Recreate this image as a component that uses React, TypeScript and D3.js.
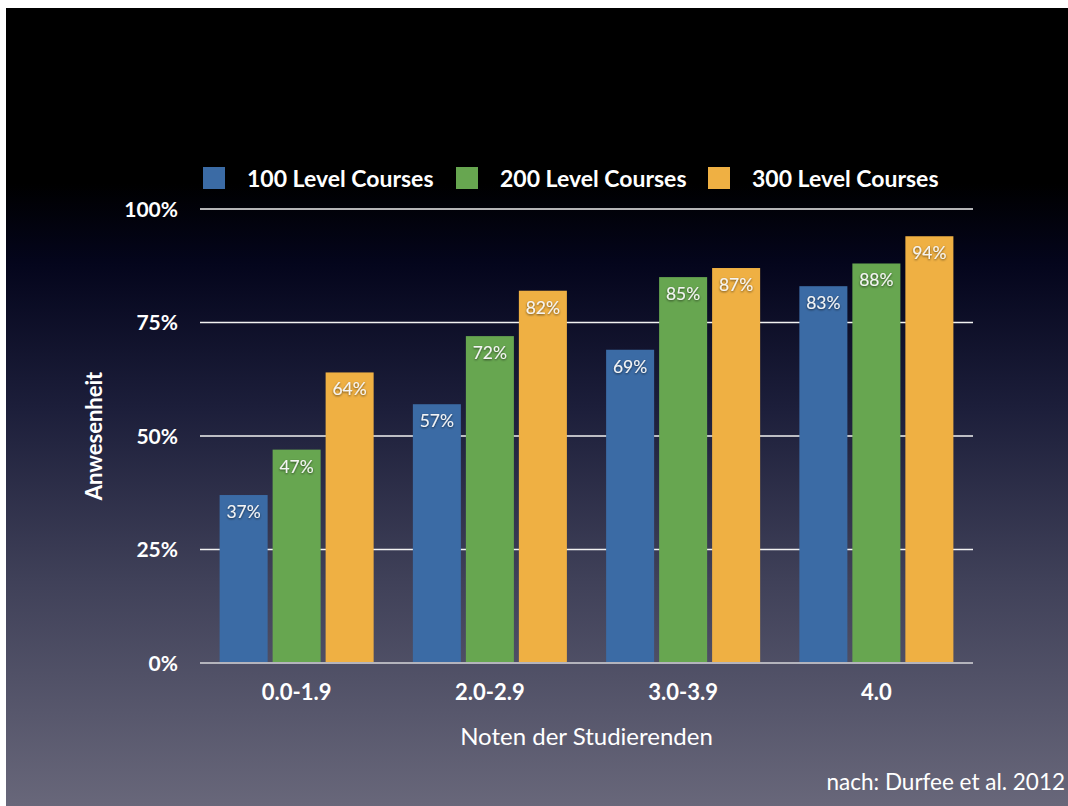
import React from "react";
import * as d3 from "d3";

const W = 1068;
const H = 806;

const categories = ["0.0-1.9", "2.0-2.9", "3.0-3.9", "4.0"];
const seriesNames = ["100 Level Courses", "200 Level Courses", "300 Level Courses"];
const level100 = [37, 57, 69, 83];
const level200 = [47, 72, 85, 88];
const level300 = [64, 82, 87, 94];
const yTicks = [0, 25, 50, 75, 100];
const seriesColors = ["#3b6ba5", "#67a650", "#efb043"];

const series = [level100, level200, level300];

const plot = { left: 200, right: 973, top: 209, bottom: 663 };
const FONT = "Lato, 'Open Sans', sans-serif";

export default function App() {
  const x0 = d3
    .scaleBand<string>()
    .domain(categories)
    .range([plot.left, plot.right]);
  const x1 = d3
    .scaleBand<string>()
    .domain(seriesNames)
    .range([0, x0.bandwidth()])
    .paddingInner(0.094)
    .paddingOuter(0.37);
  const y = d3.scaleLinear().domain([0, 100]).range([plot.bottom, plot.top]);

  const legendX = [203, 456, 708];

  return (
    <svg
      width={W}
      height={H}
      style={{ position: "absolute", left: 0, top: 0, display: "block" }}
      fontFamily={FONT}
    >
      <defs>
        <linearGradient id="bg" x1="0" y1="0" x2="0" y2="1">
          <stop offset="0" stopColor="#000000" />
          <stop offset="0.22" stopColor="#000000" />
          <stop offset="0.32" stopColor="#04051c" />
          <stop offset="0.5" stopColor="#1c1e3a" />
          <stop offset="0.72" stopColor="#404159" />
          <stop offset="1" stopColor="#68677a" />
        </linearGradient>
        <filter id="shadow" x="-20%" y="-30%" width="140%" height="160%">
          <feDropShadow dx="0" dy="1" stdDeviation="1.2" floodColor="#000" floodOpacity="0.6" />
        </filter>
      </defs>
      <rect x={0} y={0} width={W} height={H} fill="#ffffff" />
      <rect x={6} y={8} width={W - 6} height={H - 8} fill="url(#bg)" />

      {/* legend */}
      {seriesNames.map((name, i) => (
        <g key={name}>
          <rect x={legendX[i]} y={167} width={22} height={22} fill={seriesColors[i]} />
          <text
            x={legendX[i] + 44}
            y={187}
            fill="#fff"
            fontSize={23}
            fontWeight={700}
          >
            {name}
          </text>
        </g>
      ))}

      {/* gridlines */}
      {yTicks.slice(1).map((t) => (
        <line
          key={t}
          x1={plot.left}
          x2={plot.right}
          y1={y(t)}
          y2={y(t)}
          stroke="#f2f2f2"
          strokeWidth={1.5}
        />
      ))}

      {/* y tick labels */}
      {yTicks.map((t) => (
        <text
          key={t}
          x={178}
          y={y(t)}
          dy="0.36em"
          textAnchor="end"
          fill="#fff"
          fontSize={21}
          fontWeight={700}
        >
          {t}%
        </text>
      ))}

      {/* bars */}
      {categories.map((c, ci) => (
        <g key={c} transform={`translate(${x0(c)},0)`}>
          {seriesNames.map((s, si) => {
            const v = series[si][ci];
            const bx = x1(s)!;
            const bw = x1.bandwidth();
            return (
              <g key={s}>
                <rect
                  x={bx}
                  y={y(v)}
                  width={bw}
                  height={y(0) - y(v)}
                  fill={seriesColors[si]}
                />
                <text
                  x={bx + bw / 2}
                  y={y(v) + 23}
                  textAnchor="middle"
                  fill="#f4f4f4"
                  fontSize={17.5}
                  filter="url(#shadow)"
                >
                  {v}%
                </text>
              </g>
            );
          })}
        </g>
      ))}

      {/* baseline */}
      <line
        x1={plot.left}
        x2={plot.right}
        y1={y(0)}
        y2={y(0)}
        stroke="#b4b4bc"
        strokeWidth={2}
      />

      {/* x tick labels */}
      {categories.map((c) => (
        <text
          key={c}
          x={x0(c)! + x0.bandwidth() / 2}
          y={700}
          textAnchor="middle"
          fill="#fff"
          fontSize={22}
          fontWeight={700}
        >
          {c}
        </text>
      ))}

      {/* axis titles */}
      <text
        x={(plot.left + plot.right) / 2}
        y={745}
        textAnchor="middle"
        fill="#fff"
        fontSize={24}
      >
        Noten der Studierenden
      </text>
      <text
        transform={`translate(102,${(plot.top + plot.bottom) / 2}) rotate(-90)`}
        textAnchor="middle"
        fill="#fff"
        fontSize={22}
        fontWeight={700}
      >
        Anwesenheit
      </text>

      <text x={1065} y={790} textAnchor="end" fill="#fff" fontSize={22.5}>
        nach: Durfee et al. 2012
      </text>
    </svg>
  );
}
